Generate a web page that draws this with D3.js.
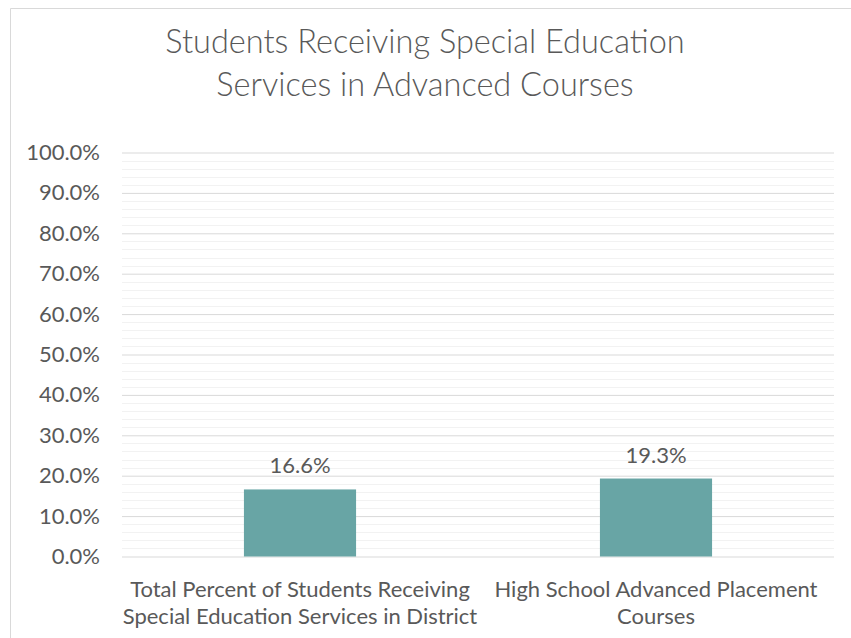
<!DOCTYPE html>
<html>
<head>
<meta charset="utf-8">
<script src="https://cdn.jsdelivr.net/npm/d3@7"></script>
<style>
  html, body { margin: 0; padding: 0; background: #fff; }
  svg { display: block; }
  text { font-family: Lato, "Open Sans", sans-serif; fill: #595959; }
</style>
</head>
<body>
<svg id="chart" width="851" height="638"></svg>
<script>
// Chart data
const titleLines = ["Students Receiving Special Education", "Services in Advanced Courses"];
const categories = [
  ["Total Percent of Students Receiving", "Special Education Services in District"],
  ["High School Advanced Placement", "Courses"]
];
const values = [0.166, 0.193];
const majorTicks = [0, 0.1, 0.2, 0.3, 0.4, 0.5, 0.6, 0.7, 0.8, 0.9, 1.0];
const minorTicks = d3.range(0, 51).map(i => i * 0.02);

const svg = d3.select("#chart");
const W = 851, H = 638;
const margin = { left: 122, right: 17, top: 152.5, bottom: 81.5 };
const labelSize = 22;

// Outer chart frame
svg.append("path")
  .attr("d", `M10.5,${H + 2} V8.5 H${W + 2}`)
  .attr("fill", "none")
  .attr("stroke", "#d9d9d9")
  .attr("stroke-width", 1);

// Title
svg.append("g").selectAll("text")
  .data(titleLines)
  .join("text")
  .attr("x", 425)
  .attr("y", (d, i) => 53 + i * 43)
  .attr("text-anchor", "middle")
  .attr("font-size", 32.5)
  .attr("font-weight", 300)
  .attr("fill", "#4f4f4f")
  .text(d => d);

const x = d3.scaleBand()
  .domain(d3.range(categories.length))
  .range([margin.left, W - margin.right])
  .padding(0);

const y = d3.scaleLinear()
  .domain([0, 1])
  .range([H - margin.bottom, margin.top]);

// Minor gridlines
svg.append("g")
  .selectAll("line")
  .data(minorTicks.filter(v => Math.round(v * 100) % 10 !== 0))
  .join("line")
  .attr("x1", margin.left).attr("x2", W - margin.right)
  .attr("y1", d => Math.round(y(d)) + 0.5).attr("y2", d => Math.round(y(d)) + 0.5)
  .attr("stroke", "#f2f2f2").attr("stroke-width", 1);

// Major gridlines + axis labels
const yAxis = d3.axisLeft(y)
  .tickValues(majorTicks)
  .tickFormat(d3.format(".1%"))
  .tickSize(-(W - margin.left - margin.right))
  .tickPadding(22);

const gy = svg.append("g")
  .attr("transform", `translate(${margin.left},0)`)
  .call(yAxis);
gy.select(".domain").remove();
gy.selectAll(".tick line").attr("stroke", "#d9d9d9").attr("stroke-width", 1);
gy.selectAll(".tick text")
  .attr("font-size", labelSize)
  .attr("font-family", "Lato, sans-serif")
  .attr("fill", "#595959");

// Bars
const barW = x.bandwidth() * 0.315;
svg.append("g")
  .selectAll("rect")
  .data(values)
  .join("rect")
  .attr("x", (d, i) => x(i) + x.bandwidth() / 2 - barW / 2)
  .attr("width", barW)
  .attr("y", d => y(d))
  .attr("height", d => y(0) - y(d))
  .attr("fill", "#68a5a5");

// Value labels
svg.append("g")
  .selectAll("text")
  .data(values)
  .join("text")
  .attr("x", (d, i) => x(i) + x.bandwidth() / 2)
  .attr("y", d => y(d) - 16)
  .attr("text-anchor", "middle")
  .attr("font-size", labelSize)
  .attr("fill", "#404040")
  .text(d => d3.format(".1%")(d));

// Category labels
const cat = svg.append("g")
  .selectAll("text")
  .data(categories)
  .join("text")
  .attr("x", (d, i) => x(i) + x.bandwidth() / 2)
  .attr("y", 597)
  .attr("text-anchor", "middle")
  .attr("font-size", labelSize);
cat.selectAll("tspan")
  .data(d => d)
  .join("tspan")
  .attr("x", function () { return this.parentNode.getAttribute("x"); })
  .attr("dy", (d, i) => i === 0 ? 0 : 27)
  .text(d => d);
</script>
</body>
</html>
